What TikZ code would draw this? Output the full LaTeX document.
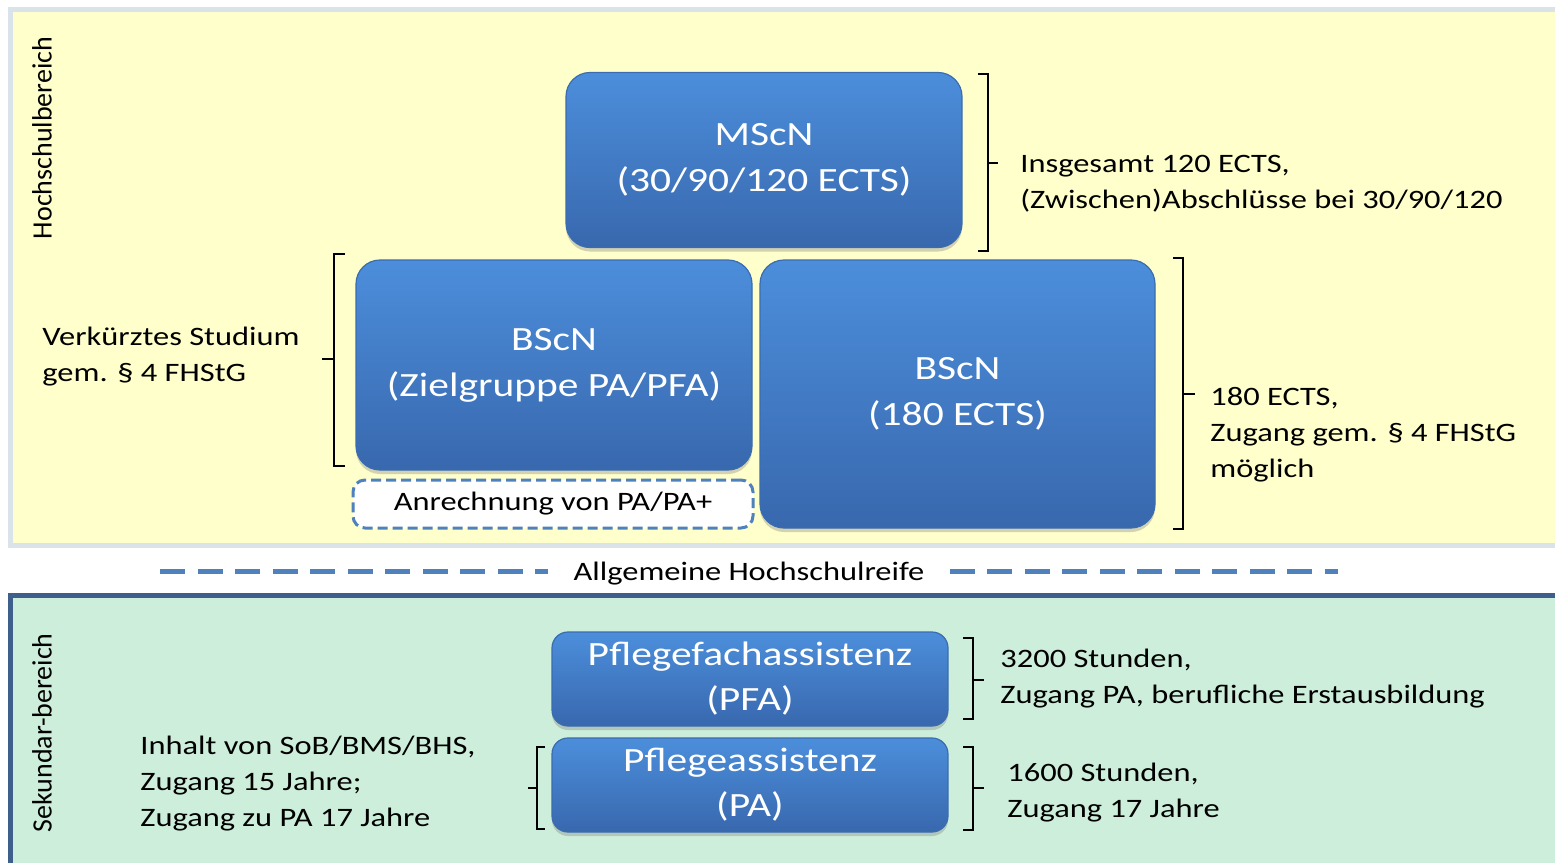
\documentclass[tikz,border=0pt]{standalone}
\usepackage{fontspec}
\setmainfont{Carlito}[FakeStretch=1.22]
\newfontfamily\seitenfont{Carlito}
\usetikzlibrary{shadows}
\definecolor{hsgelb}{RGB}{255,255,204}
\definecolor{hsrand}{RGB}{218,226,234}
\definecolor{sekgruen}{RGB}{204,238,218}
\definecolor{sekrand}{RGB}{62,94,140}
\definecolor{boxoben}{RGB}{76,142,219}
\definecolor{boxunten}{RGB}{56,104,174}
\definecolor{boxrand}{RGB}{58,108,176}
\definecolor{strich}{RGB}{79,129,189}
\tikzset{
  stufe/.style={rounded corners=12pt, top color=boxoben, bottom color=boxunten, draw=boxrand,
    line width=0.6pt, text=white, align=center, inner sep=1pt, font=\fontsize{17}{23}\selectfont,
    drop shadow={shadow xshift=0pt, shadow yshift=-2pt, opacity=0.35}},
  anrechnung/.style={draw=strich, line width=1.5pt, dash pattern=on 5pt off 2.5pt, fill=white,
    rounded corners=6pt, font=\fontsize{13.3}{18}\selectfont},
  klammer/.style={line width=0.8pt, black},
  notiz/.style={anchor=west, align=left, inner sep=0pt, yshift=-1.5pt, font=\fontsize{13.3}{18}\selectfont},
  bereich/.style={rotate=90, inner sep=0pt, font=\seitenfont\fontsize{14}{17}\selectfont},
  reifelinie/.style={strich, line width=2.5pt, dash pattern=on 12.5pt off 6.25pt}
}
\begin{document}
\begin{tikzpicture}[x=0.5pt,y=-0.5pt]
\clip (0,0) rectangle (1555,863);
\fill[white] (0,0) rectangle (1555,863);
\draw[hsrand, line width=2.5pt, fill=hsgelb] (10,9) rectangle (1570,545);
\draw[sekrand, line width=2.5pt, fill=sekgruen] (10.5,595.5) rectangle (1570,880);
\node[bereich] (hsb) at (42,138) {Hochschulbereich};
\node[bereich] (sek) at (42,733) {Sekundar-bereich};
% Hochschulbereich
\node[stufe, minimum width=198pt, minimum height=87.5pt] (msc) at (764,160) {MScN\\(30/90/120 ECTS)};
\node[stufe, minimum width=198pt, minimum height=105pt] (bscz) at (554,365) {BScN\\(Zielgruppe PA/PFA)};
\node[stufe, minimum width=197.5pt, minimum height=134pt] (bsc) at (957.5,394) {BScN\\(180 ECTS)};
\node[anrechnung, minimum width=200pt, minimum height=24pt] (anr) at (553,504) {Anrechnung von PA/PA+};
\draw[klammer] (978,74) -- (988,74) -- (988,251) -- (978,251) (988,163) -- (998,163);
\draw[klammer] (345,254) -- (334,254) -- (334,466) -- (345,466) (334,359) -- (322,359);
\draw[klammer] (1173,258) -- (1183,258) -- (1183,529) -- (1173,529) (1183,394) -- (1195,394);
\node[notiz] (n120) at (1020,181) {Insgesamt 120 ECTS,\\(Zwischen)Abschlüsse bei 30/90/120};
\node[notiz] (n180) at (1210,432) {180 ECTS,\\Zugang gem. § 4 FHStG\\möglich};
\node[notiz] (verk) at (42,354) {Verkürztes Studium\\gem. § 4 FHStG};
% Hochschulreife
\node[font=\fontsize{13.3}{18}\selectfont, inner sep=0pt, yshift=-1.5pt] (reife) at (749,571) {Allgemeine Hochschulreife};
\coordinate (reifeL) at (160,571);
\coordinate (reifeR) at (1338,571);
\draw[reifelinie] (reifeL) -- ([xshift=-12.5pt]reife.west |- reifeL);
\draw[reifelinie] ([xshift=12.5pt]reife.east |- reifeR) -- (reifeR);
% Sekundarbereich
\node[stufe, rounded corners=8pt, minimum width=198pt, minimum height=47pt, font=\fontsize{17}{22.5}\selectfont] (pfa) at (750,679) {Pflegefachassistenz\\(PFA)};
\node[stufe, rounded corners=8pt, minimum width=198pt, minimum height=47pt, font=\fontsize{17}{22.5}\selectfont] (pa) at (750,785) {Pflegeassistenz\\(PA)};
\draw[klammer] (963,638) -- (973,638) -- (973,719) -- (963,719) (973,680) -- (984,680);
\draw[klammer] (963,747) -- (973,747) -- (973,830) -- (963,830) (973,788) -- (984,788);
\draw[klammer] (545,747) -- (537,747) -- (537,829) -- (545,829) (537,788) -- (528,788);
\node[notiz] (n3200) at (1000,676) {3200 Stunden,\\Zugang PA, berufliche Erstausbildung};
\node[notiz] (n1600) at (1007,790) {1600 Stunden,\\Zugang 17 Jahre};
\node[notiz] (inhalt) at (140,781) {Inhalt von SoB/BMS/BHS,\\Zugang 15 Jahre;\\Zugang zu PA 17 Jahre};
\end{tikzpicture}
\end{document}
